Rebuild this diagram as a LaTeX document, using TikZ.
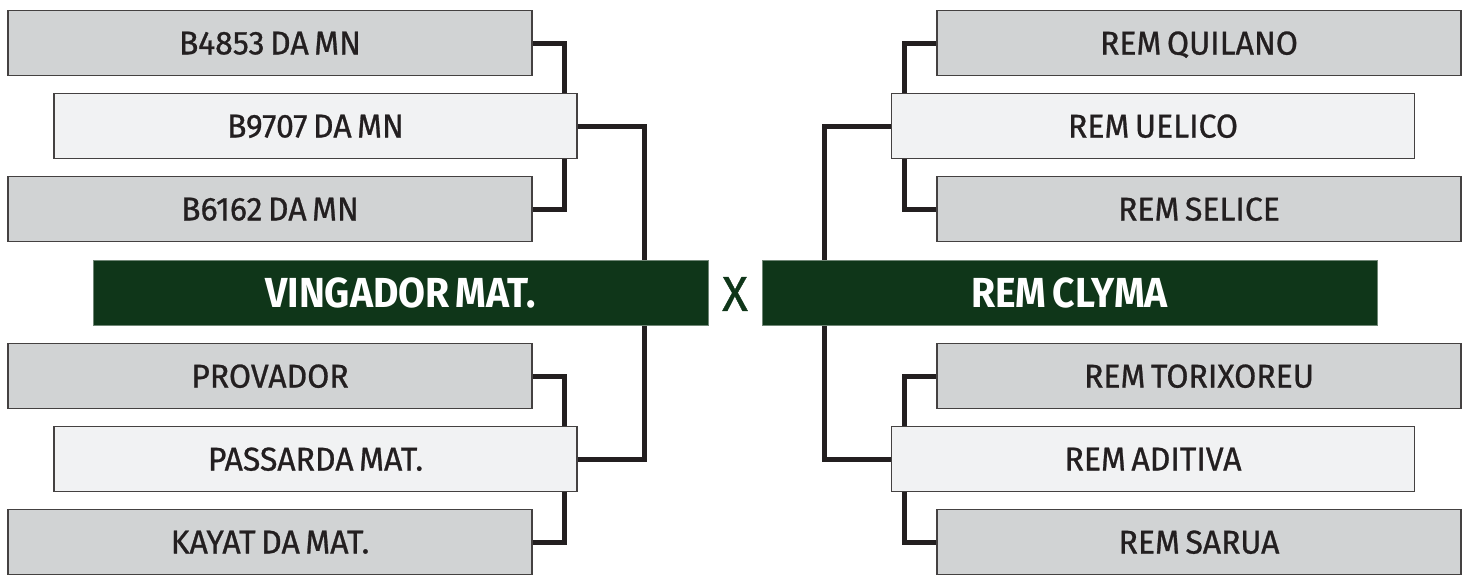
\documentclass[tikz,border=0pt]{standalone}
\usepackage{fontspec}
\setmainfont{Fira Sans}[WordSpace=0.65, UprightFeatures={FakeStretch=0.97, FakeBold=0.8}, BoldFeatures={FakeStretch=0.93}]
\usetikzlibrary{backgrounds}
\definecolor{teamgreen}{HTML}{0F3619}
\definecolor{boxgrey}{HTML}{D1D3D4}
\definecolor{boxlight}{HTML}{F1F2F3}
\definecolor{inkdark}{HTML}{231F20}
\tikzstyle{seedbox} = [draw=inkdark!85, line width=1.2pt, fill=boxgrey, text=inkdark, minimum width=524pt, minimum height=65pt, inner sep=0pt, text depth=0pt, font=\fontsize{33}{36}\selectfont]
\tikzstyle{winbox} = [seedbox, fill=boxlight, minimum width=523pt]
\tikzstyle{finalbox} = [draw=teamgreen!60!white, line width=1pt, fill=teamgreen, text=white, minimum width=615pt, minimum height=65pt, inner sep=0pt, text depth=0pt, font=\fontsize{42}{46}\selectfont\bfseries]
\tikzstyle{bracket} = [draw=inkdark, line width=5pt]

\begin{document}
\begin{tikzpicture}[x=1pt, y=-1pt]
      \useasboundingbox (0,0) rectangle (1469,574);

      \node[seedbox] (b4853) at (270, 43) {B4853 DA MN};
      \node[winbox] (b9707) at (315.5, 126) {B9707 DA MN};
      \node[seedbox] (b6162) at (270, 209) {B6162 DA MN};
      \node[finalbox] (vingador) at (400.5, 292.5) {VINGADOR MAT.};
      \node[seedbox] (provador) at (270, 376) {PROVADOR};
      \node[winbox] (passarda) at (315.5, 459) {PASSARDA MAT.};
      \node[seedbox] (kayat) at (270, 542) {KAYAT DA MAT.};

      \node[text=teamgreen, inner sep=0pt, font=\fontsize{49}{52}\selectfont] (versus) at (735, 294) {X};

      \node[seedbox] (quilano) at (1199, 43) {REM QUILANO};
      \node[winbox] (uelico) at (1153, 126) {REM UELICO};
      \node[seedbox] (selice) at (1199, 209) {REM SELICE};
      \node[finalbox] (clyma) at (1069.5, 292.5) {REM CLYMA};
      \node[seedbox] (torixoreu) at (1199, 376) {REM TORIXOREU};
      \node[winbox] (aditiva) at (1153, 459) {REM ADITIVA};
      \node[seedbox] (sarua) at (1199, 542) {REM SARUA};

      \begin{pgfonlayer}{background}
        \draw[bracket] (b4853.east) -- ++(32,0) |- (b6162.east);
        \draw[bracket] (provador.east) -- ++(32,0) |- (kayat.east);
        \draw[bracket] (b9707.east) -- ++(67,0) |- (passarda.east);
        \draw[bracket] (quilano.west) -- ++(-32,0) |- (selice.west);
        \draw[bracket] (torixoreu.west) -- ++(-32,0) |- (sarua.west);
        \draw[bracket] (uelico.west) -- ++(-66,0) |- (aditiva.west);
      \end{pgfonlayer}
    \end{tikzpicture}
\end{document}
